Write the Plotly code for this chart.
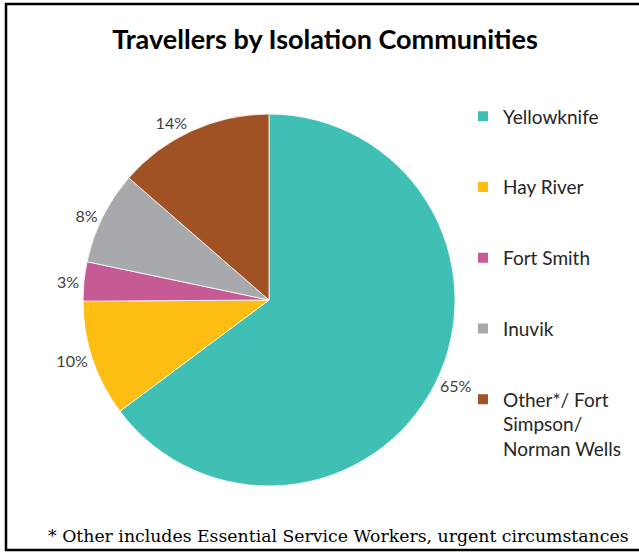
import plotly.graph_objects as go

categories = ["Yellowknife", "Hay River", "Fort Smith", "Inuvik",
              "Other*/ Fort<br>Simpson/<br>Norman Wells"]
shares = [64.8, 10.1, 3.4, 8.1, 13.6]
colors = ["#40BFB4", "#FDBD13", "#C55A94", "#A7A9AC", "#A05225"]
title_text = "Travellers by Isolation Communities"
footnote = "* Other includes Essential Service Workers, urgent circumstances"

W, H = 639, 552
cx, cy, r = 269, 300, 186

fig = go.Figure()
fig.add_trace(go.Pie(
    labels=categories,
    values=shares,
    sort=False,
    direction="clockwise",
    rotation=0,
    marker=dict(colors=colors, line=dict(color="white", width=0.8)),
    textposition="outside",
    texttemplate="%{percent:.0%}",
    textfont=dict(family="Lato, Open Sans, sans-serif", size=16, color="#404040"),
    showlegend=False,
    domain=dict(x=[(cx - r) / W, (cx + r) / W], y=[(H - cy - r) / H, (H - cy + r) / H]),
    automargin=False,
))

for i, (name, col) in enumerate(zip(categories, colors)):
    fig.add_trace(go.Scatter(
        x=[None], y=[None], mode="markers", name=name,
        marker=dict(symbol="square", size=10, color=col),
        legendgroup=f"g{i}", showlegend=True, hoverinfo="skip",
    ))

fig.update_layout(
    width=W, height=H,
    margin=dict(l=0, r=0, t=0, b=0),
    paper_bgcolor="white", plot_bgcolor="white",
    xaxis=dict(visible=False), yaxis=dict(visible=False),
    title=dict(text="<b>" + title_text + "</b>", x=325 / W, xanchor="center",
               y=1 - 40 / H, yanchor="middle",
               font=dict(family="Lato, Open Sans, sans-serif", size=27, color="black")),
    legend=dict(x=463 / W, xanchor="left", y=1 - 97.5 / H, yanchor="top",
                traceorder="grouped", tracegroupgap=43, valign="top",
                font=dict(family="Lato, Open Sans, sans-serif", size=19, color="#262626"),
                bgcolor="rgba(0,0,0,0)"),
    annotations=[dict(text=footnote, x=338 / W, y=1 - 536 / H, xref="paper", yref="paper",
                      xanchor="center", yanchor="middle", showarrow=False,
                      font=dict(family="DejaVu Serif, serif", size=17.3, color="black"))],
    shapes=[dict(type="rect", xref="paper", yref="paper",
                 x0=6 / W, x1=1.01, y0=1 - 550 / H, y1=1 - 4 / H,
                 line=dict(color="black", width=2.5))],
)

fig.write_html("out.html", config={"displayModeBar": False},
               post_script="document.body.style.margin='0px';document.body.style.overflow='hidden';")
